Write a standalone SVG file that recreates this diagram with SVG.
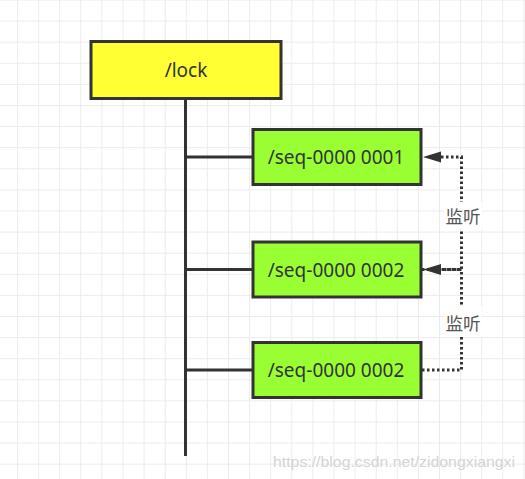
<svg xmlns="http://www.w3.org/2000/svg" width="525" height="479" viewBox="0 0 525 479">
  <style>
    .box { stroke: #333333; stroke-width: 3; }
    .lbl { font-family: "Noto Sans", "Noto Sans CJK SC", sans-serif; font-size: 19px; fill: #333333; text-anchor: middle; dominant-baseline: central; }
    .tree { stroke: #333333; stroke-width: 3; fill: none; }
    .dot { stroke: #333333; stroke-width: 3; fill: none; stroke-dasharray: 2.5 2.5; }
    .cn { font-family: "Noto Sans CJK SC", sans-serif; font-size: 17.5px; fill: #555555; text-anchor: middle; dominant-baseline: central; }
  </style>
  <defs>
    <pattern id="grid" patternUnits="userSpaceOnUse" x="17" y="-0.5" width="21.1" height="21.1">
      <path d="M0.5 0 V21.1 M0 0.5 H21.1" stroke="#ebebeb" stroke-width="1" fill="none"/>
    </pattern>
  </defs>
  <rect width="525" height="479" fill="#ffffff"/>
  <rect width="525" height="479" fill="url(#grid)"/>

  <g id="connectors">
    <path class="tree" d="M185.5 99 V456"/>
    <path class="tree" d="M185.5 157 H253"/>
    <path class="tree" d="M185.5 269.5 H253"/>
    <path class="tree" d="M185.5 370 H253"/>
    <path class="dot" d="M422 269.5 H461.5 V157 H440"/>
    <path d="M441 151.5 L423 157 L441 162.5 Z" fill="#333333"/>
    <path class="dot" d="M422 370 H461.5 V269.5 H440"/>
    <path d="M441 264 L423 269.5 L441 275 Z" fill="#333333"/>
    <rect x="444" y="202" width="38" height="27" fill="#ffffff"/>
    <text class="cn" x="463" y="215.5">监听</text>
    <rect x="444" y="306" width="38" height="31" fill="#ffffff"/>
    <text class="cn" x="463" y="322.5">监听</text>
  </g>

  <g id="lock">
    <rect class="box" x="91" y="41.5" width="190" height="57" fill="#ffff33"/>
    <text class="lbl" x="186" y="70">/lock</text>
  </g>
  <g id="seq1">
    <rect class="box" x="253" y="129.5" width="168" height="55" fill="#99ff33"/>
    <text class="lbl" x="336" y="157">/seq-0000 0001</text>
  </g>
  <g id="seq2">
    <rect class="box" x="253" y="242" width="168" height="55" fill="#99ff33"/>
    <text class="lbl" x="336" y="269.5">/seq-0000 0002</text>
  </g>
  <g id="seq3">
    <rect class="box" x="253" y="342.5" width="168" height="55" fill="#99ff33"/>
    <text class="lbl" x="336" y="370">/seq-0000 0002</text>
  </g>

  <text x="273" y="467" font-family="Liberation Sans, Arial, sans-serif" font-size="15" fill="#d4d4d4" textLength="242" lengthAdjust="spacingAndGlyphs">https://blog.csdn.net/zidongxiangxi</text>
</svg>
